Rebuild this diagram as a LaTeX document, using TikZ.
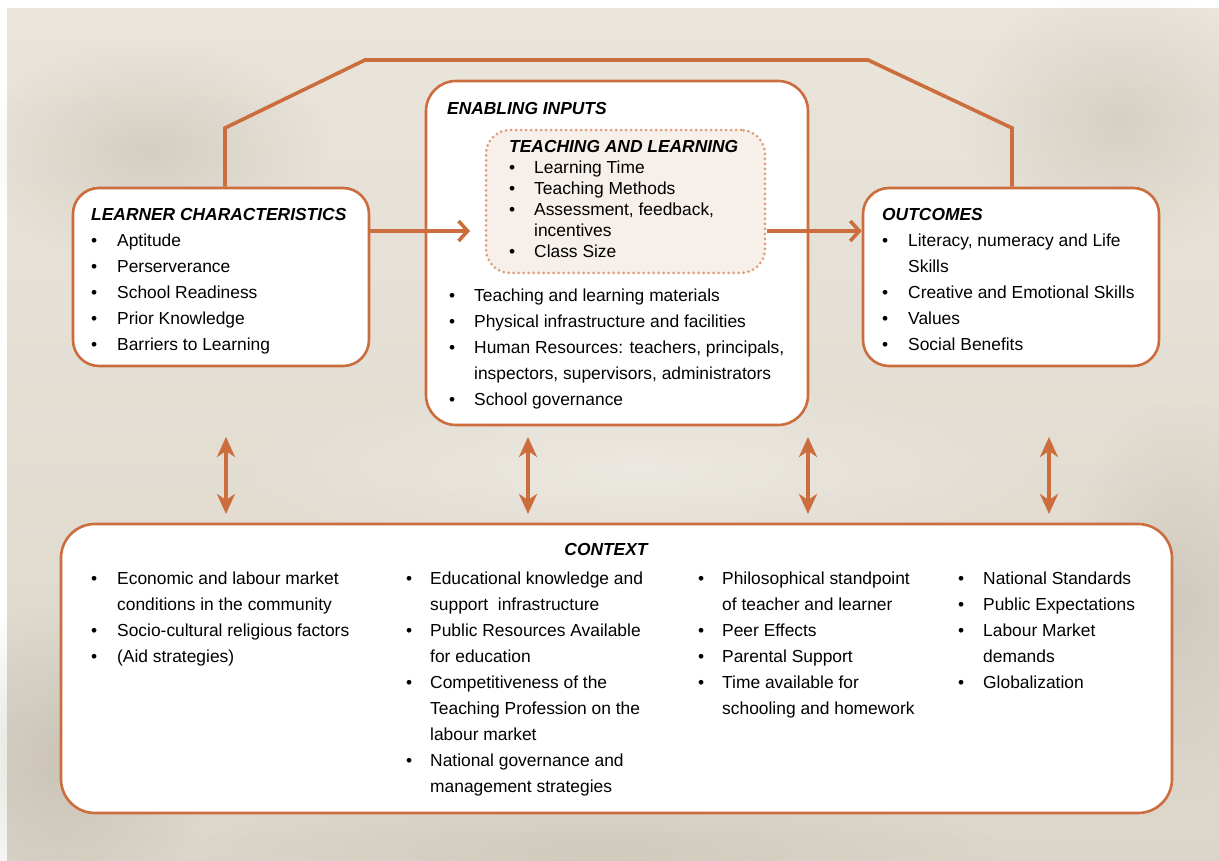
\documentclass[tikz,border=0pt]{standalone}
\usepackage{fontspec}
\setmainfont{Liberation Sans}
\usetikzlibrary{arrows.meta,fadings}
\definecolor{org}{HTML}{CC6D3E}
\definecolor{orglt}{HTML}{E09C78}
\definecolor{tlfill}{HTML}{F7EFE9}
\definecolor{bgtop}{HTML}{EAE5DB}
\definecolor{bgbot}{HTML}{DCD6CA}
\definecolor{blob}{HTML}{A89F90}
\tikzfading[name=softblob, inner color=transparent!0, outer color=transparent!100]
\newlength\bulw
\newcommand\bitem[1]{\makebox[\bulw][l]{\textbullet}#1}
\newcommand\bcont[1]{\hspace*{\bulw}#1}
\begin{document}
\begin{tikzpicture}[x=1pt,y=-1pt,
  box/.style={draw=org, line width=2.6pt, fill=white, rounded corners=26pt, inner sep=0pt},
  tlbox/.style={draw=orglt, line width=3pt, fill=tlfill, rounded corners=24pt, inner sep=0pt,
     dash pattern=on 0pt off 5pt, line cap=round},
  txt/.style={anchor=north west, inner sep=0pt, align=left, font={\fontsize{17.4}{26}\selectfont\setlength\bulw{#1}}},
  txt/.default=26pt,
  ttl/.style={anchor=north west, inner sep=0pt, font=\fontsize{17.4}{26}\selectfont\bfseries\itshape},
  conn/.style={draw=org, line width=3.6pt},
  harr/.style={conn, -{Straight Barb[length=9pt,width=20pt]}},
  varr/.style={conn, {Stealth[length=20pt,width=18pt,inset=6pt]}-{Stealth[length=20pt,width=18pt,inset=6pt]}},
  blobf/.style={fill=blob, opacity=#1, path fading=softblob}
]
\useasboundingbox (0,0) rectangle (1219,861);
% background
\fill[top color=bgtop, bottom color=bgbot] (7,9) rectangle (1219,861);
\fill[blobf=0.30] (150,150) ellipse (180 and 110);
\fill[blobf=0.28] (1120,120) ellipse (160 and 130);
\fill[blobf=0.35] (60,760) ellipse (150 and 160);
\fill[blobf=0.28] (1180,600) ellipse (120 and 200);
\fill[blobf=0.22] (600,850) ellipse (400 and 60);
\fill[white, opacity=0.35, path fading=softblob] (640,470) ellipse (420 and 90);

% top connector coordinates
\coordinate (t1) at (225,128);
\coordinate (t2) at (365,60);
\coordinate (t3) at (868,60);
\coordinate (t4) at (1012,128);

% boxes
\node[box, minimum width=296pt, minimum height=178pt] (learner) at (221,277) {};
\node[box, rounded corners=30pt, minimum width=382pt, minimum height=344pt] (enabling) at (617,253) {};
\node[tlbox, minimum width=279pt, minimum height=143pt] (tl) at (625.5,201.5) {};
\node[box, minimum width=296pt, minimum height=178pt] (outcomes) at (1011,277) {};
\node[box, rounded corners=34pt, minimum width=1111pt, minimum height=289pt] (context) at (616.5,668.5) {};

% top connector
\draw[conn, line join=miter] (learner.north -| t1) -- (t1) -- (t2) -- (t3) -- (t4) -- (outcomes.north -| t4);

% horizontal arrows
\coordinate (a1) at (470,231);
\coordinate (a2) at (864,231);
\draw[harr] (learner.east |- a1) -- (a1);
\draw[harr] (tl.east |- a2) -- (outcomes.west |- a2);

% vertical double arrows
\coordinate (v1a) at (226,437); \coordinate (v1b) at (226,514);
\coordinate (v2a) at (528,437); \coordinate (v2b) at (528,514);
\coordinate (v3a) at (808,437); \coordinate (v3b) at (808,514);
\coordinate (v4a) at (1049,437); \coordinate (v4b) at (1049,514);
\draw[varr] (v1a) -- (v1b);
\draw[varr] (v2a) -- (v2b);
\draw[varr] (v3a) -- (v3b);
\draw[varr] (v4a) -- (v4b);

% texts
\node[txt] (learnertxt) at (91,208) {\textbf{\textit{LEARNER CHARACTERISTICS}}\\
  \bitem{Aptitude}\\ \bitem{Perserverance}\\ \bitem{School Readiness}\\
  \bitem{Prior Knowledge}\\ \bitem{Barriers to Learning}};

\node[ttl] (enablingttl) at (447,102) {ENABLING INPUTS};

\node[txt=25pt, font={\fontsize{17.4}{21}\selectfont\setlength\bulw{25pt}}] (tltxt) at (509,140)
  {\textbf{\textit{TEACHING AND LEARNING}}\\
  \bitem{Learning Time}\\ \bitem{Teaching Methods}\\ \bitem{Assessment, feedback,}\\
  \bcont{incentives}\\ \bitem{Class Size}};

\node[txt=25pt] (enablingtxt) at (449,289)
  {\bitem{Teaching and learning materials}\\
   \bitem{Physical infrastructure and facilities}\\
   \bitem{Human Resources: teachers, principals,}\\
   \bcont{inspectors, supervisors, administrators}\\
   \bitem{School governance}};

\node[txt] (outcomestxt) at (882,208) {\textbf{\textit{OUTCOMES}}\\
  \bitem{Literacy, numeracy and Life}\\ \bcont{Skills}\\
  \bitem{Creative and Emotional Skills}\\ \bitem{Values}\\ \bitem{Social Benefits}};

\node[inner sep=0pt, font=\fontsize{17.4}{26}\selectfont\bfseries\itshape] (contextttl) at (606,550) {CONTEXT};

\node[txt] (c1) at (91,572)
  {\bitem{Economic and labour market}\\ \bcont{conditions in the community}\\
   \bitem{Socio-cultural religious factors}\\ \bitem{(Aid strategies)}};
\node[txt=24pt] (c2) at (406,572)
  {\bitem{Educational knowledge and}\\ \bcont{support\ \ infrastructure}\\
   \bitem{Public Resources Available}\\ \bcont{for education}\\
   \bitem{Competitiveness of the}\\ \bcont{Teaching Profession on the}\\ \bcont{labour market}\\
   \bitem{National governance and}\\ \bcont{management strategies}};
\node[txt=24pt] (c3) at (698,572)
  {\bitem{Philosophical standpoint}\\ \bcont{of teacher and learner}\\
   \bitem{Peer Effects}\\ \bitem{Parental Support}\\
   \bitem{Time available for}\\ \bcont{schooling and homework}};
\node[txt=25pt] (c4) at (958,572)
  {\bitem{National Standards}\\ \bitem{Public Expectations}\\
   \bitem{Labour Market}\\ \bcont{demands}\\ \bitem{Globalization}};
\end{tikzpicture}
\end{document}
